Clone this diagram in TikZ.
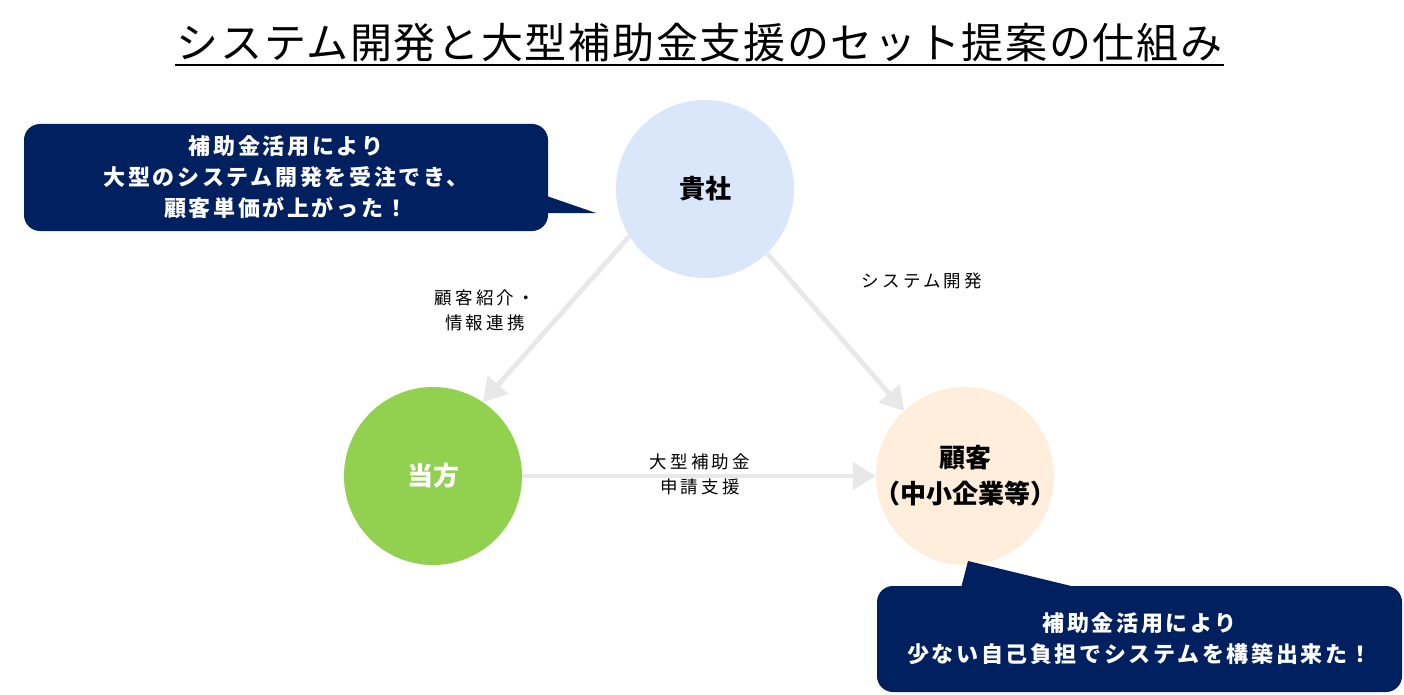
\documentclass[tikz,border=0pt]{standalone}
\usepackage{fontspec}
\usetikzlibrary{arrows.meta}
\newfontfamily\jp{Noto Sans CJK JP}
\definecolor{navy}{HTML}{002060}
\definecolor{blueC}{HTML}{DAE6F9}
\definecolor{greenC}{HTML}{92D050}
\definecolor{peachC}{HTML}{FEEEDB}
\definecolor{arrowgray}{HTML}{E8E8E8}
\tikzset{
  circ/.style={circle, minimum size=178pt, inner sep=0pt, align=center,
    font=\jp\bfseries\fontsize{26}{36}\selectfont},
  conn/.style={draw=arrowgray, line width=4.8pt, -{Triangle[width=27pt,length=23pt]}},
  lbl/.style={align=center, inner sep=0pt,
    font=\jp\fontsize{17.5}{25}\selectfont\addfontfeature{LetterSpace=18}},
  callout/.style={fill=navy, rounded corners=16pt, text=white, align=center, inner sep=0pt,
    font=\jp\bfseries\fontsize{22}{31}\selectfont\addfontfeature{LetterSpace=12}},
}
\begin{document}
\begin{tikzpicture}[x=1pt,y=-1pt]
\useasboundingbox[fill=white] (0,0) rectangle (1404,695);
% title
\node[inner sep=0pt, font=\jp\fontsize{42}{50}\selectfont\addfontfeature{LetterSpace=4}] (title) at (699.5,43) {システム開発と大型補助金支援のセット提案の仕組み};
\draw[line width=2.5pt] (175,65) -- (1224,65);
% circles
\node[circ, fill=blueC] (kisha) at (705,189) {貴社};
\node[circ, fill=greenC, text=white] (toho) at (433,476) {当方};
\node[circ, fill=peachC] (kokyaku) at (965,476) {\makebox[0pt]{顧客}\\\makebox[0pt]{（中小企業等）}};
% connectors
\draw[conn] (kisha.212) -- (toho.56);
\draw[conn] (kisha.314) -- (kokyaku.133);
\draw[conn] (toho.east) -- (kokyaku.west);
% labels
\node[lbl] (l1) at (485,310) {顧客紹介・\\情報連携};
\node[lbl] (l2) at (922,281) {システム開発};
\node[lbl] (l3) at (700,474) {大型補助金\\申請支援};
% callouts
\node[callout, minimum width=524pt, minimum height=107pt] (c1) at (286,177.5)
  {補助金活用により\\大型のシステム開発を受注でき、\\顧客単価が上がった！};
\fill[navy] (535,192) -- (596,213) -- (535,213) -- cycle;
\node[callout, minimum width=525pt, minimum height=106pt] (c2) at (1139.5,639)
  {補助金活用により\\少ない自己負担でシステムを構築出来た！};
\fill[navy] (960,592) -- (968,561) -- (1096,592) -- cycle;
\end{tikzpicture}
\end{document}
